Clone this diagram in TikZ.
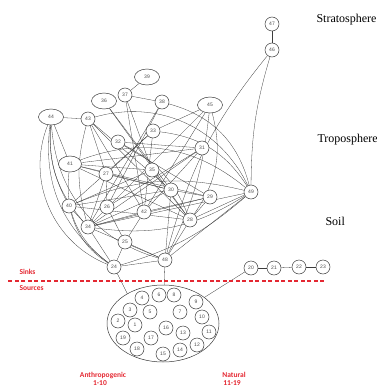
\documentclass[tikz,border=0pt]{standalone}
\usepackage{fontspec}
\setmainfont{Liberation Serif}
\setsansfont{Liberation Sans}
\newfontfamily\calib{Carlito}
\usetikzlibrary{shapes.geometric,backgrounds}
\definecolor{sinkred}{RGB}{228,40,50}
\definecolor{edgegray}{RGB}{60,60,60}
\begin{document}
\begin{tikzpicture}[x=1pt,y=-1pt,
    comp/.style={circle,draw=edgegray,line width=0.5pt,fill=white,inner sep=0pt,minimum size=14pt,font=\sffamily\fontsize{5}{5}\selectfont,text=black!70},
    wcomp/.style={comp,ellipse,minimum width=25pt,minimum height=16pt},
    link/.style={draw=edgegray,line width=0.3pt},
    layer/.style={anchor=west,font=\fontsize{12}{12}\selectfont},
    tag/.style={font=\calib\bfseries\fontsize{7.5}{8}\selectfont,text=sinkred}]
    \useasboundingbox (0,0) rectangle (377,388);

    \node[comp] (n47) at (272,24) {47};
    \node[comp] (n46) at (272,50) {46};
    \node[wcomp] (n39) at (147,77) {39};
    \node[comp] (n37) at (125,95) {37};
    \node[wcomp] (n36) at (104,101) {36};
    \node[comp] (n38) at (162,102) {38};
    \node[wcomp] (n45) at (210,105) {45};
    \node[wcomp] (n44) at (51,117) {44};
    \node[comp] (n43) at (88,119) {43};
    \node[comp] (n33) at (153,131) {33};
    \node[comp] (n32) at (118,142) {32};
    \node[comp] (n31) at (202,148) {31};
    \node[wcomp,minimum width=23pt] (n41) at (70,164) {41};
    \node[comp] (n35) at (152,170) {35};
    \node[comp] (n27) at (106,174) {27};
    \node[comp] (n30) at (171,190) {30};
    \node[comp] (n29) at (210,197) {29};
    \node[comp] (n49) at (251,192) {49};
    \node[comp] (n40) at (69,206) {40};
    \node[comp] (n26) at (107,207) {26};
    \node[comp] (n42) at (144,212) {42};
    \node[comp] (n28) at (190,220) {28};
    \node[comp] (n34) at (88,227) {34};
    \node[comp] (n25) at (125,242) {25};
    \node[comp] (n48) at (165,260) {48};
    \node[comp] (n24) at (114,267) {24};
    \node[comp] (n20) at (251,268) {20};
    \node[comp] (n21) at (274,268) {21};
    \node[comp] (n22) at (299,267) {22};
    \node[comp] (n23) at (323,267) {23};

    \begin{scope}[on background layer]
    \foreach \a/\b in {47/46,39/37,37/38,37/35,37/42,36/30,36/28,38/34,38/26,45/33,45/34,45/42,44/43,44/41,
        43/27,43/42,43/28,43/30,33/27,33/40,33/42,32/31,32/29,31/41,31/42,31/34,41/35,41/30,41/29,27/26,
        27/34,27/30,35/40,35/28,30/40,30/34,30/29,30/48,29/34,29/28,28/40,28/48,28/41,26/25,26/31,42/25,
        42/29,42/34,40/34,34/24,34/48,25/24,25/48,24/48,49/28,49/48,49/34,20/21,21/22,22/23}
        \draw[link] (n\a) -- (n\b);
    \foreach \a/\b/\t in {44/24/45,44/24/30,44/34/22,44/40/15,44/48/35,41/24/30,40/24/20,43/34/15,
        46/49/8,46/48/12,45/48/-10,45/28/-25,38/49/-30,41/49/-30,43/49/-40,40/49/-18,33/49/-25,24/49/12,34/49/20,32/28/-20}
        \draw[link] (n\a) to[bend right=\t] (n\b);
    \end{scope}

    \node[ellipse,draw=edgegray,line width=0.5pt,minimum width=112pt,minimum height=77pt] (src) at (163,323.5) {};
    \draw[link] (n24) -- (src.140);
    \draw[link] (n48) -- (src);
    \draw[link] (n20) -- (src);

    \node[comp] (s4) at (142,298) {4};
    \node[comp] (s6) at (159,295) {6};
    \node[comp] (s8) at (174,295) {8};
    \node[comp] (s9) at (196,302) {9};
    \node[comp] (s3) at (130,310) {3};
    \node[comp] (s5) at (150,312) {5};
    \node[comp] (s7) at (180,312) {7};
    \node[comp] (s10) at (202,317) {10};
    \node[comp] (s2) at (118,321) {2};
    \node[comp] (s1) at (135,325) {1};
    \node[comp] (s16) at (166,328) {16};
    \node[comp] (s13) at (183,333) {13};
    \node[comp] (s11) at (209,332) {11};
    \node[comp] (s19) at (123,338) {19};
    \node[comp] (s17) at (151,338) {17};
    \node[comp] (s12) at (197,345) {12};
    \node[comp] (s18) at (137,349) {18};
    \node[comp] (s14) at (180,350) {14};
    \node[comp] (s15) at (163,354) {15};

    \foreach \x in {8,14.5,...,322}
        \fill[sinkred] (\x,280.4) rectangle ++(4,1.2);
    \node[tag,anchor=west] (sinks) at (16,272) {Sinks};
    \node[tag,anchor=west] (sources) at (16,288) {Sources};
    \node[tag] (anthro) at (103,375) {Anthropogenic};
    \node[tag] (anthronum) at (100,383.5) {1-10};
    \node[tag] (natural) at (234,375) {Natural};
    \node[tag] (naturalnum) at (232,383.5) {11-19};

    \node[layer] (strato) at (313,20) {Stratosphere};
    \node[layer] (tropo) at (314,140) {Troposphere};
    \node[layer] (soil) at (322,221) {Soil};
\end{tikzpicture}
\end{document}
